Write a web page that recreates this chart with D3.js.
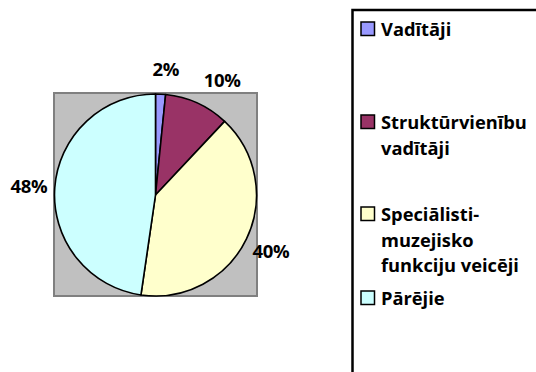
<!DOCTYPE html>
<html>
<head>
<meta charset="utf-8">
<script src="https://cdn.jsdelivr.net/npm/d3@7"></script>
<style>
  html, body { margin: 0; padding: 0; background: #fff; }
  svg { display: block; }
  text { font-family: "Open Sans", "Noto Sans", sans-serif; font-weight: bold; fill: #000; }
</style>
</head>
<body>
<svg id="chart" width="536" height="372"></svg>
<script>
// Staff structure (share of total, %)
const categories = ["Vadītāji", "Struktūrvienību vadītāji", "Speciālisti-muzejisko funkciju veicēji", "Pārējie"];
const legendLines = [["Vadītāji"], ["Struktūrvienību", "vadītāji"], ["Speciālisti-", "muzejisko", "funkciju veicēji"], ["Pārējie"]];
const shares = [1.6, 10.4, 40.3, 47.7];
const colors = ["#9999ff", "#993366", "#ffffcc", "#ccffff"];

const svg = d3.select("#chart");

// plot area
const plot = { x: 54, y: 93, w: 203, h: 203 };
svg.append("rect")
  .attr("x", plot.x).attr("y", plot.y)
  .attr("width", plot.w).attr("height", plot.h)
  .attr("fill", "#c0c0c0")
  .attr("stroke", "#808080")
  .attr("stroke-width", 2);

const cx = plot.x + plot.w / 2, cy = plot.y + plot.h / 2 + 0.5;
const radius = 101;

const pie = d3.pie().sort(null).value(d => d.v);
const data = pie(shares.map((v, i) => ({ v, name: categories[i], color: colors[i] })));

const arc = d3.arc().innerRadius(0).outerRadius(radius);
const labelArc = d3.arc().innerRadius(127).outerRadius(127);

const g = svg.append("g").attr("transform", `translate(${cx},${cy})`);
g.selectAll("path.slice")
  .data(data)
  .join("path")
  .attr("class", "slice")
  .attr("d", arc)
  .attr("fill", d => d.data.color)
  .attr("stroke", "#000")
  .attr("stroke-width", 1.6)
  .attr("stroke-linejoin", "round");

const fmt = d3.format(".0f");
// small slice labels are spread apart so neighbours don't crowd
const nudge = [4, 14, 1, 0];
g.selectAll("text.pct")
  .data(data)
  .join("text")
  .attr("class", "pct")
  .attr("x", (d, i) => labelArc.centroid(d)[0] + nudge[i])
  .attr("y", d => labelArc.centroid(d)[1])
  .attr("text-anchor", "middle")
  .attr("dominant-baseline", "central")
  .style("font-size", "18.5px")
  .style("letter-spacing", "-0.3px")
  .text(d => fmt(d.data.v) + "%");

// legend
const legend = svg.append("g");
legend.append("rect")
  .attr("x", 352.5).attr("y", 10)
  .attr("width", 200).attr("height", 380)
  .attr("fill", "#fff")
  .attr("stroke", "#000")
  .attr("stroke-width", 2.5);

const itemTop = [22, 115, 207, 291];
const lineH = 25.5;
legendLines.forEach((lines, i) => {
  legend.append("rect")
    .attr("x", 361).attr("y", itemTop[i])
    .attr("width", 13.5).attr("height", 13.5)
    .attr("fill", colors[i])
    .attr("stroke", "#000")
    .attr("stroke-width", 1.5);
  const t = legend.append("text")
    .attr("x", 381)
    .attr("y", itemTop[i] + 14)
    .style("font-size", "18.3px");
  lines.forEach((ln, j) => {
    t.append("tspan").attr("x", 381).attr("dy", j === 0 ? 0 : lineH).text(ln);
  });
});
</script>
</body>
</html>
